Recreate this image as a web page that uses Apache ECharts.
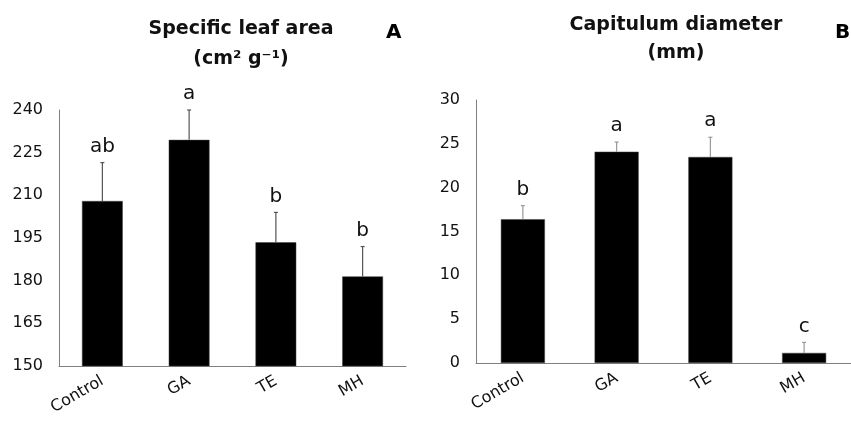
<!DOCTYPE html>
<html>
<head>
<meta charset="utf-8">
<script src="https://cdn.jsdelivr.net/npm/echarts@6/dist/echarts.min.js"></script>
<style>
html,body{margin:0;padding:0;background:#fff;}
#c{width:851px;height:423px;}
</style>
</head>
<body>
<div id="c"></div>
<script>
var categories = ['Control', 'GA', 'TE', 'MH'];
var slaMean = [208, 229.5, 193.5, 181.5];
var slaErr = [13.5, 10.5, 10.5, 10.5];
var slaLetters = ['ab', 'a', 'b', 'b'];
var capMean = [16.4, 24.1, 23.5, 1.15];
var capErr = [1.55, 1.1, 2.25, 1.2];
var capLetters = ['b', 'a', 'a', 'c'];
var slaAxis = {min: 150, max: 240, interval: 15};
var capAxis = {min: 0, max: 30, interval: 5};

var FONT = 'DejaVu Sans';

function errData(mean, err) {
  return mean.map(function (m, i) { return [i, m, m + err[i]]; });
}
function errRender(color, letters) {
  return function (params, api) {
    var i = api.value(0);
    var p0 = api.coord([i, api.value(1)]);
    var p1 = api.coord([i, api.value(2)]);
    var txt = letters[params.dataIndex];
    return {
      type: 'group',
      children: [
        {type: 'line', shape: {x1: p0[0], y1: p0[1], x2: p1[0], y2: p1[1]}, style: {stroke: color, lineWidth: 1.2}},
        {type: 'line', shape: {x1: p1[0] - 2, y1: p1[1], x2: p1[0] + 2, y2: p1[1]}, style: {stroke: color, lineWidth: 1.2}},
        {type: 'text', x: p1[0], y: p1[1] - 6,
         style: {text: txt, align: 'center', verticalAlign: 'bottom', font: '20px "DejaVu Sans"', fill: '#111'}}
      ]
    };
  };
}

function xAxisCfg(idx) {
  return {
    type: 'category', gridIndex: idx, data: categories,
    axisLine: {lineStyle: {color: '#808080', width: 1}},
    axisTick: {show: false},
    axisLabel: {rotate: 30, margin: 14, fontFamily: FONT, fontSize: 16, color: '#111', interval: 0}
  };
}
function yAxisCfg(idx, a) {
  return {
    type: 'value', gridIndex: idx, min: a.min, max: a.max, interval: a.interval,
    axisLine: {show: true, lineStyle: {color: '#808080', width: 1}},
    axisTick: {show: false},
    splitLine: {show: false},
    axisLabel: {margin: 16, fontFamily: FONT, fontSize: 16, color: '#111'}
  };
}

var chart = echarts.init(document.getElementById('c'));
chart.setOption({
  animation: false,
  backgroundColor: '#fff',
  title: [
    {text: 'Specific leaf area\n(cm² g⁻¹)', left: 236, top: 9, textAlign: 'center',
     textStyle: {fontFamily: FONT, fontWeight: 'bold', fontSize: 19, lineHeight: 30, color: '#111'}},
    {text: 'Capitulum diameter\n(mm)', left: 671, top: 6, textAlign: 'center',
     textStyle: {fontFamily: FONT, fontWeight: 'bold', fontSize: 19, lineHeight: 28, color: '#111'}},
    {text: 'A', left: 381, top: 18,
     textStyle: {fontFamily: FONT, fontWeight: 'bold', fontSize: 20, color: '#000'}},
    {text: 'B', left: 830, top: 18,
     textStyle: {fontFamily: FONT, fontWeight: 'bold', fontSize: 20, color: '#000'}}
  ],
  grid: [
    {left: 59, top: 110, width: 347, height: 256},
    {left: 476, top: 100, width: 376, height: 263}
  ],
  xAxis: [xAxisCfg(0), xAxisCfg(1)],
  yAxis: [yAxisCfg(0, slaAxis), yAxisCfg(1, capAxis)],
  series: [
    {type: 'bar', xAxisIndex: 0, yAxisIndex: 0, data: slaMean, barWidth: '47%',
     itemStyle: {color: '#000', borderColor: '#444', borderWidth: 0.5}},
    {type: 'custom', xAxisIndex: 0, yAxisIndex: 0, data: errData(slaMean, slaErr),
     renderItem: errRender('#555', slaLetters), clip: false, z: 3},
    {type: 'bar', xAxisIndex: 1, yAxisIndex: 1, data: capMean, barWidth: '47%',
     itemStyle: {color: '#000', borderColor: '#444', borderWidth: 0.5}},
    {type: 'custom', xAxisIndex: 1, yAxisIndex: 1, data: errData(capMean, capErr),
     renderItem: errRender('#999', capLetters), clip: false, z: 3}
  ]
});
</script>
</body>
</html>
